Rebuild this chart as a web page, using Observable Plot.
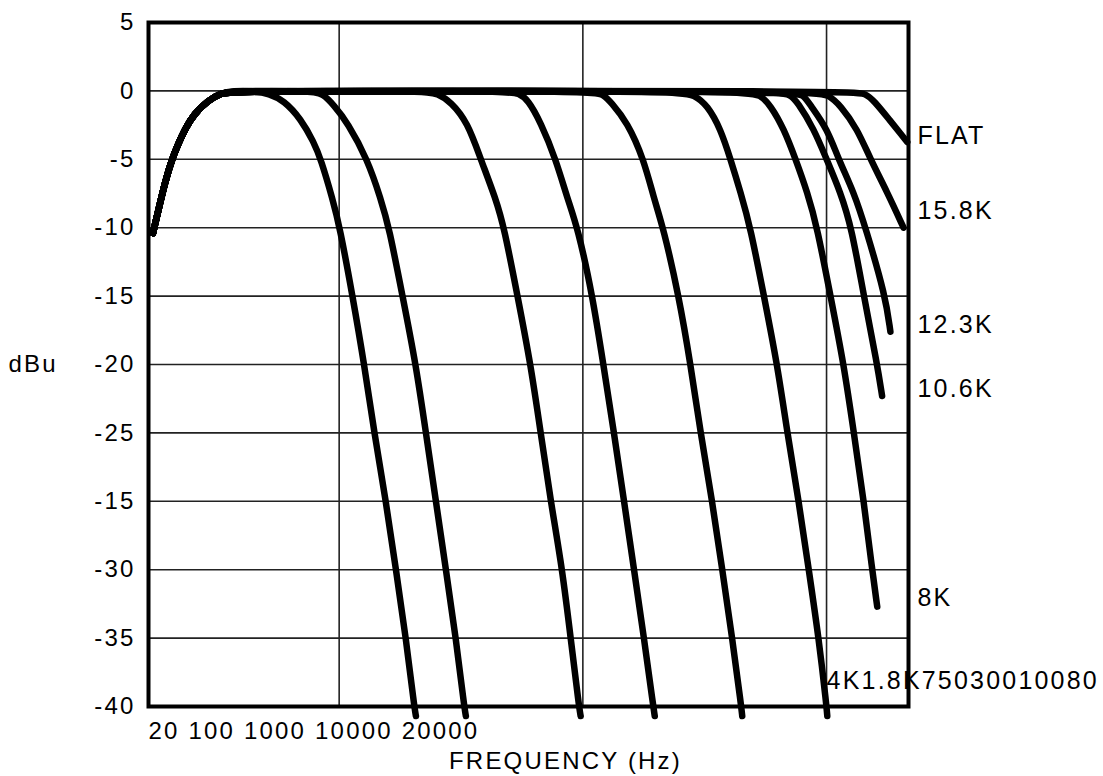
<!DOCTYPE html>
<html>
<head>
<meta charset="utf-8">
<script src="https://cdn.jsdelivr.net/npm/d3@7"></script>
<script src="https://cdn.jsdelivr.net/npm/@observablehq/plot@0.6"></script>
<style>
  html, body { margin: 0; padding: 0; background: #fff; overflow: hidden; }
</style>
</head>
<body>
<div id="chart"></div>
<script>
// x values are log10(frequency in Hz); y values are dBu
const highPass = [[1.236,-10.4],[1.261,-8.5],[1.285,-6.7],[1.314,-5.0],[1.339,-3.9],[1.367,-2.8],[1.404,-1.7],[1.462,-0.7],[1.515,-0.17],[1.564,0]];
const lp80   = [[1.650,0],[1.712,-0.2],[1.773,-0.7],[1.843,-2.05],[1.896,-3.75],[1.925,-5],[1.973,-7.9],[2.003,-10],[2.055,-15],[2.103,-20],[2.144,-25],[2.192,-30],[2.233,-35],[2.274,-40],[2.308,-45],[2.315,-45.7]];
const lp100  = [[1.884,0],[1.933,-0.2],[1.978,-1.05],[2.034,-2.3],[2.116,-5],[2.171,-7.9],[2.205,-10],[2.260,-15],[2.315,-20],[2.356,-25],[2.397,-30],[2.438,-35],[2.479,-40],[2.513,-45],[2.520,-45.7]];
const lp300  = [[2.347,0],[2.405,-0.2],[2.458,-0.8],[2.527,-2.3],[2.581,-5],[2.643,-7.9],[2.677,-10],[2.732,-15],[2.786,-20],[2.827,-25],[2.868,-30],[2.916,-35],[2.950,-40],[2.984,-45],[2.991,-45.7]];
const lp750  = [[2.696,0],[2.737,-0.2],[2.773,-0.6],[2.827,-2.3],[2.889,-5],[2.937,-7.9],[2.979,-10],[3.040,-15],[3.084,-20],[3.128,-25],[3.169,-30],[3.210,-35],[3.251,-40],[3.289,-45],[3.295,-45.7]];
const lp1k8  = [[3.045,0],[3.086,-0.3],[3.114,-0.8],[3.183,-2.3],[3.250,-5],[3.292,-7.9],[3.330,-10],[3.394,-15],[3.442,-20],[3.483,-25],[3.531,-30],[3.572,-35],[3.613,-40],[3.650,-45],[3.654,-45.7]];
const lp4k   = [[3.389,0],[3.459,-0.3],[3.511,-1.06],[3.565,-2.77],[3.606,-5],[3.647,-7.4],[3.688,-10],[3.743,-15],[3.798,-20],[3.839,-25],[3.886,-30],[3.927,-35],[3.968,-40],[4.000,-45],[4.003,-45.7]];
const lp8k   = [[3.668,0],[3.729,-0.3],[3.770,-1.06],[3.825,-2.77],[3.873,-5],[3.921,-7.4],[3.962,-10],[4.016,-15],[4.071,-20],[4.112,-25],[4.153,-30],[4.187,-35],[4.208,-37.7]];
const lp10k6 = [[3.803,0],[3.852,-0.3],[3.880,-0.8],[3.948,-2.77],[4.000,-5],[4.057,-7.4],[4.103,-10],[4.153,-15],[4.208,-20],[4.228,-22.3]];
const lp12k3 = [[3.861,0],[3.906,-0.3],[3.934,-1.06],[4.003,-2.77],[4.049,-5],[4.112,-7.4],[4.160,-10],[4.242,-15],[4.262,-17.6]];
const lp15k8 = [[3.955,0],[4.008,-0.3],[4.057,-1.06],[4.126,-2.77],[4.180,-5],[4.249,-7.4],[4.316,-10]];
const lpFlat = [[4.111,0],[4.160,-0.2],[4.194,-0.7],[4.262,-2.2],[4.303,-3.1],[4.331,-3.74]];

const curveNames = ["80","100","300","750","1.8K","4K","8K","10.6K","12.3K","15.8K","FLAT"];
const curveSets  = [lp80, lp100, lp300, lp750, lp1k8, lp4k, lp8k, lp10k6, lp12k3, lp15k8, lpFlat];

const yTicks      = [5, 0, -5, -10, -15, -20, -25, -30, -35, -40, -45];
const yTickLabels = ["5","0","-5","-10","-15","-20","-25","-15","-30","-35","-40"];
const xGrid       = [2, 3, 4];               // 100, 1000, 10000 Hz
const xDomain     = [1.2176, 4.3363];
const xTickLabels = ["20","100","1000","10000","20000"];
const xTitle = "FREQUENCY (Hz)";
const yTitle = "dBu";
const yTitleDb = -20;

const rightLabels   = ["FLAT","15.8K","12.3K","10.6K","8K"];
const rightLabelDb  = [-3.3, -8.8, -17.1, -21.8, -37.1];
const bottomLabels  = ["4K","1.8K","750","300","100","80"];
const bottomLabelAt = [4.0, -43.1];

const rows = [];
curveNames.forEach((name, k) => {
  for (const [lf, db] of highPass) rows.push({name, lf, db});
  for (const [lf, db] of curveSets[k]) rows.push({name, lf, db});
});
const tickMap = new Map(yTicks.map((v, i) => [v, yTickLabels[i]]));

const chart = Plot.plot({
  width: 1103,
  height: 776,
  marginLeft: 148,
  marginRight: 195,
  marginTop: 22,
  marginBottom: 70,
  style: {
    fontFamily: "'Liberation Sans', Arial, Helvetica, sans-serif",
    fontSize: "24px",
    letterSpacing: "2.2px",
    color: "#000",
    background: "#fff",
    overflow: "visible"
  },
  x: {type: "linear", domain: xDomain, axis: null},
  y: {type: "linear", domain: [-45, 5]},
  marks: [
    Plot.ruleX(xGrid, {stroke: "#222", strokeWidth: 1.6}),
    Plot.ruleY(yTicks, {stroke: "#222", strokeWidth: 1.6}),
    Plot.line(rows, {
      x: "lf", y: "db", z: "name",
      stroke: "#000", strokeWidth: 6.5,
      curve: "basis",
      strokeLinecap: "round", strokeLinejoin: "round"
    }),
    Plot.frame({stroke: "#000", strokeWidth: 4}),
    Plot.axisY(yTicks, {
      tickSize: 0, tickPadding: 13,
      tickFormat: d => tickMap.get(d),
      fontSize: 24, label: null
    }),
    Plot.text([yTitle], {
      frameAnchor: "left", y: [yTitleDb], text: d => d,
      dx: -140, textAnchor: "start", fontSize: 24
    }),
    Plot.text([xTickLabels.join(" ")], {
      frameAnchor: "bottom-left", text: d => d,
      textAnchor: "start", lineAnchor: "middle", dy: 25, fontSize: 24
    }),
    Plot.text([xTitle], {
      frameAnchor: "bottom", text: d => d, lineAnchor: "middle",
      dx: 37, dy: 55, fontSize: 24
    }),
    Plot.text(rightLabels, {
      frameAnchor: "right", y: rightLabelDb, text: d => d,
      textAnchor: "start", dx: 9, fontSize: 25
    }),
    Plot.text([bottomLabels.join("")], {
      x: [bottomLabelAt[0]], y: [bottomLabelAt[1]], text: d => d,
      textAnchor: "start", fontSize: 25, letterSpacing: "1.6px"
    })
  ]
});
document.getElementById("chart").appendChild(chart);
</script>
</body>
</html>
